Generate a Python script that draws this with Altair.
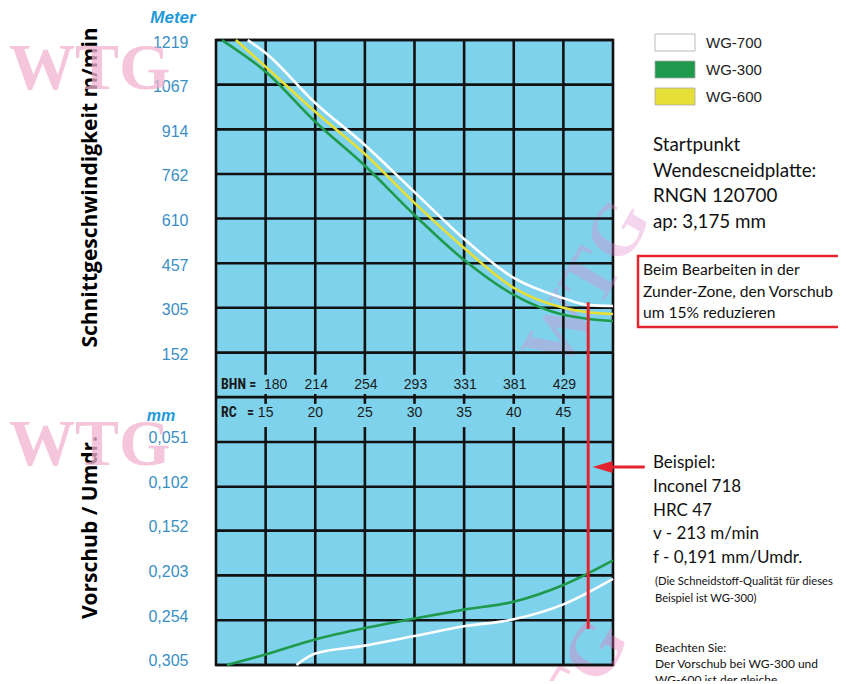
import altair as alt
import pandas as pd

# ---------------- data ----------------
# grid columns: Rockwell C hardness and the matching Brinell values
rc_cols = [15, 20, 25, 30, 35, 40, 45]
bhn_cols = [180, 214, 254, 293, 331, 381, 429]

# axis tick labels
speed_ticks = [1219, 1067, 914, 762, 610, 457, 305, 152]
feed_ticks = [0.051, 0.102, 0.152, 0.203, 0.254, 0.305]

series = ["WG-700", "WG-300", "WG-600"]
series_colors = ["#ffffff", "#1f9a4c", "#e6df38"]

# cutting speed (m/min) against HRC
v700_rc = [13.2, 15, 20, 25, 30, 35, 40, 45, 47.5, 50]
v700 = [1219, 1175, 1004, 861, 700, 540, 407, 338, 314, 311]
v600_rc = [12, 15, 20, 25, 30, 35, 40, 45, 47.5, 50]
v600 = [1219, 1128, 974, 830, 663, 509, 373, 305, 290, 284]
v300_rc = [10.6, 15, 20, 25, 30, 35, 40, 45, 47.5, 50]
v300 = [1219, 1111, 940, 790, 622, 468, 349, 281, 267, 260]

# feed (mm/rev) against HRC
f300_rc = [11.1, 15, 20, 25, 30, 35, 40, 45, 50]
f300 = [0.305, 0.293, 0.276, 0.263, 0.252, 0.242, 0.233, 0.214, 0.186]
f700_rc = [18.1, 20, 25, 30, 35, 40, 45, 50]
f700 = [0.305, 0.292, 0.283, 0.272, 0.261, 0.253, 0.236, 0.207]

# worked example marker (red line) and arrow
example_rc = [47.5]
example_v_top = [324]
example_f_bottom = [0.264]
arrow_rc = [48.95, 53.2]
arrow_f = [0.0795]

# ---------------- scales ----------------
V_STEP = 152.4
F_STEP = 0.05084
x_scale = alt.Scale(domain=[10, 50], nice=False, zero=False)
speed_scale = alt.Scale(domain=[1219.2 - 14 * V_STEP, 1219.2], nice=False, zero=False)
feed_scale = alt.Scale(domain=[-8 * F_STEP, 6 * F_STEP], nice=False, zero=False, reverse=True)
color_scale = alt.Scale(domain=series, range=series_colors)
legend_row_scale = alt.Scale(type="point", domain=series, range=[2.5, 56.5], padding=0)

W, H = 397, 625
LABEL_BLUE = "#3a8fc3"
GRID = "#111111"
GW = 2.6
LABEL_FONT = "Liberation Sans"
NARROW = "Liberation Sans Narrow, Roboto Condensed, Liberation Sans"
NOTE_FONT = "Lato"
TITLE_FONT = "Open Sans"
RED = "#e3242f"

x_enc = alt.X("rc:Q", scale=x_scale, axis=None)
no_legend_color = alt.Color("grade:N", scale=color_scale, legend=None)


def ys(field="v:Q", axis=None):
    return alt.Y(field, scale=speed_scale, axis=axis)


def yf(field="f:Q", axis=None):
    return alt.Y(field, scale=feed_scale, axis=axis)


common_axis = dict(
    grid=False, ticks=False, domain=False, labelPadding=28,
    labelFont=LABEL_FONT, labelFontSize=16, labelColor=LABEL_BLUE,
    titleFont=TITLE_FONT, titleFontSize=21, titleFontWeight="bold", titleColor="#000000",
    titleAngle=270, titleAlign="center", titleBaseline="middle", orient="left",
)
speed_axis = alt.Axis(
    values=speed_ticks, labelOffset=2, format="d",
    title="Schnittgeschwindigkeit  m/min", titleX=-126, titleY=147, **common_axis,
)
feed_axis = alt.Axis(
    values=feed_ticks, labelOffset=-4,
    labelExpr="replace(format(datum.value, '.3f'), '.', ',')",
    title="Vorschub / Umdr.", titleX=-126, titleY=487, **common_axis,
)


# ---------------- grid ----------------
def row_to_speed(r):
    return 1219.2 - r * V_STEP


# vertical grid segments (the hardness band in the middle interrupts them)
seg_rows = [(0, 7.5), (7.93, 8.15), (8.67, 14)]
vgrid_df = pd.DataFrame(
    [{"rc": c, "v": row_to_speed(a), "v2": row_to_speed(b)} for c in rc_cols for a, b in seg_rows]
)
vgrid = alt.Chart(vgrid_df).mark_rule(color=GRID, strokeWidth=GW).encode(
    x=x_enc, y=ys(), y2="v2:Q"
)
hgrid_speed = alt.Chart(pd.DataFrame({"v": speed_ticks + [0]})).mark_rule(
    color=GRID, strokeWidth=GW
).encode(y=ys("v:Q", axis=speed_axis))
hgrid_feed = alt.Chart(pd.DataFrame({"f": feed_ticks})).mark_rule(
    color=GRID, strokeWidth=GW
).encode(y=yf("f:Q", axis=feed_axis))

# ---------------- curves ----------------
speed_df = pd.concat([
    pd.DataFrame({"rc": v700_rc, "v": v700, "grade": "WG-700"}),
    pd.DataFrame({"rc": v300_rc, "v": v300, "grade": "WG-300"}),
    pd.DataFrame({"rc": v600_rc, "v": v600, "grade": "WG-600"}),
])
feed_df = pd.concat([
    pd.DataFrame({"rc": f700_rc, "f": f700, "grade": "WG-700"}),
    pd.DataFrame({"rc": f300_rc, "f": f300, "grade": "WG-300"}),
])

speed_lines = alt.Chart(speed_df).mark_line(strokeWidth=2.6, interpolate="monotone").encode(
    x=x_enc, y=ys(), color=no_legend_color, detail="grade:N",
)
feed_lines = alt.Chart(feed_df).mark_line(strokeWidth=2.6, interpolate="monotone").encode(
    x=x_enc, y=yf(), color=no_legend_color, detail="grade:N",
)

# ---------------- legend (swatches + labels from the series list) ----------------
legend_df = pd.DataFrame({"grade": series})
legend_swatches = alt.Chart(legend_df).mark_point(
    shape="M-2,-0.85H2V0.85H-2Z", size=400, filled=True, opacity=1,
    stroke="#a8a8a8", strokeWidth=0.8,
).encode(
    x=alt.value(459), y=alt.Y("grade:N", scale=legend_row_scale, axis=None),
    fill=alt.Fill("grade:N", scale=color_scale, legend=None),
)
legend_labels = alt.Chart(legend_df).mark_text(
    font=LABEL_FONT, fontSize=15, color="#222222", align="left", baseline="middle"
).encode(
    x=alt.value(490), y=alt.Y("grade:N", scale=legend_row_scale, axis=None), text="grade:N",
)

# ---------------- example marker ----------------
red_top = alt.Chart(pd.DataFrame({"rc": example_rc, "v": example_v_top, "v2": [0]})).mark_rule(
    color=RED, strokeWidth=3
).encode(x=x_enc, y=ys(), y2="v2:Q")
red_bottom = alt.Chart(pd.DataFrame({"rc": example_rc, "f": [0], "f2": example_f_bottom})).mark_rule(
    color=RED, strokeWidth=3
).encode(x=x_enc, y=yf(), y2="f2:Q")
arrow_line = alt.Chart(pd.DataFrame({"rc": [arrow_rc[0]], "rc2": [arrow_rc[1]], "f": arrow_f})).mark_rule(
    color=RED, strokeWidth=3
).encode(x=x_enc, x2="rc2:Q", y=yf())
arrow_head = alt.Chart(pd.DataFrame({"rc": [arrow_rc[0]], "f": arrow_f})).mark_point(
    shape="M-1,0L1,-0.6L1,0.6Z", size=400, filled=True, color=RED, opacity=1
).encode(x=x_enc, y=yf())

# ---------------- hardness band labels ----------------
band_df = pd.DataFrame({"rc": rc_cols, "bhn": [str(b) for b in bhn_cols], "rcl": [str(r) for r in rc_cols]})
bhn_first = alt.Chart(band_df).transform_filter("datum.rc == 15").mark_text(
    font=LABEL_FONT, fontSize=14, color="#1a1a1a", baseline="middle", dx=10
).encode(x=x_enc, y=alt.value(345), text="bhn:N")
bhn_rest = alt.Chart(band_df).transform_filter("datum.rc > 15").mark_text(
    font=LABEL_FONT, fontSize=14, color="#1a1a1a", baseline="middle", dx=1
).encode(x=x_enc, y=alt.value(345), text="bhn:N")
rc_text = alt.Chart(band_df).mark_text(
    font=LABEL_FONT, fontSize=14, color="#1a1a1a", baseline="middle"
).encode(x=x_enc, y=alt.value(373), text="rcl:N")


def note(lines, x, y, size, font=NOTE_FONT, color="#111111", weight="normal",
         style="normal", align="left", lh=None, angle=0, opacity=1.0):
    return alt.Chart(alt.Data(values=[{}])).mark_text(
        text=lines, font=font, fontSize=size, color=color, fontWeight=weight,
        fontStyle=style, align=align, baseline="middle",
        lineHeight=lh if lh else size * 1.2, angle=angle, opacity=opacity,
    ).encode(x=alt.value(x), y=alt.value(y))


# watermarks (behind everything else)
wm = "#f2b3cf"
watermarks = [
    note("WTG", -207, 29, 66, font="Liberation Serif", color=wm, weight="bold", opacity=0.75),
    note("WTG", -207, 405, 66, font="Liberation Serif", color=wm, weight="bold", opacity=0.75),
    note("WTG", 372, 245, 74, font="Liberation Serif", color="#e58ad0", weight="bold",
         angle=300, opacity=0.35, align="center"),
    note("WTG", 350, 665, 74, font="Liberation Serif", color="#ef70b8", weight="bold",
         angle=300, opacity=0.35, align="center"),
]

band_labels = [
    note("BHN =", 5, 345, 14, font=NARROW, weight="bold", color="#1a1a1a"),
    note("RC", 5, 373, 14, font=NARROW, weight="bold", color="#1a1a1a"),
    note("=", 31, 373, 14, font=NARROW, weight="bold", color="#1a1a1a"),
]

texts = [
    note("Meter", -43, -22, 17, font=LABEL_FONT, color="#1f9ad8", weight="bold", style="italic", align="center"),
    note("mm", -55, 376, 16, font=LABEL_FONT, color="#1f9ad8", weight="bold", style="italic", align="center"),
    note(["Startpunkt", "Wendescneidplatte:", "RNGN 120700", "ap: 3,175 mm"], 437, 105, 18.8, lh=25.7),
    note(["Beim Bearbeiten in der", "Zunder-Zone, den Vorschub", "um 15% reduzieren"], 427, 230, 15.6, lh=21.5),
    note(["Beispiel:", "Inconel 718", "HRC 47", "v - 213 m/min", "f - 0,191 mm/Umdr."], 437, 423, 17, lh=23.8),
    note(["(Die Schneidstoff-Qualität für dieses", "Beispiel ist WG-300)"], 439, 542, 11.2, lh=16.5),
    note(["Beachten Sie:", "Der Vorschub bei WG-300 und", "WG-600 ist der gleiche"], 439, 608, 12, lh=16),
]

red_box = alt.Chart(alt.Data(values=[{}])).mark_rect(
    fill="white", fillOpacity=0, stroke=RED, strokeWidth=2.5
).encode(x=alt.value(422), x2=alt.value(625), y=alt.value(216), y2=alt.value(287))

chart = alt.layer(
    *watermarks,
    hgrid_speed, hgrid_feed, vgrid,
    speed_lines, feed_lines,
    red_top, red_bottom, arrow_line, arrow_head,
    legend_swatches, legend_labels,
    bhn_first, bhn_rest, rc_text, *band_labels, red_box, *texts,
).resolve_scale(y="independent").properties(
    width=W, height=H,
    autosize=alt.AutoSizeParams(type="none"),
    padding={"left": 208, "top": 32, "right": 225, "bottom": 16},
    background="white",
).configure_view(
    fill="#7fd2eb", stroke=GRID, strokeWidth=GW,
)

chart.save("out.html", embed_options={"renderer": "svg", "actions": False})
